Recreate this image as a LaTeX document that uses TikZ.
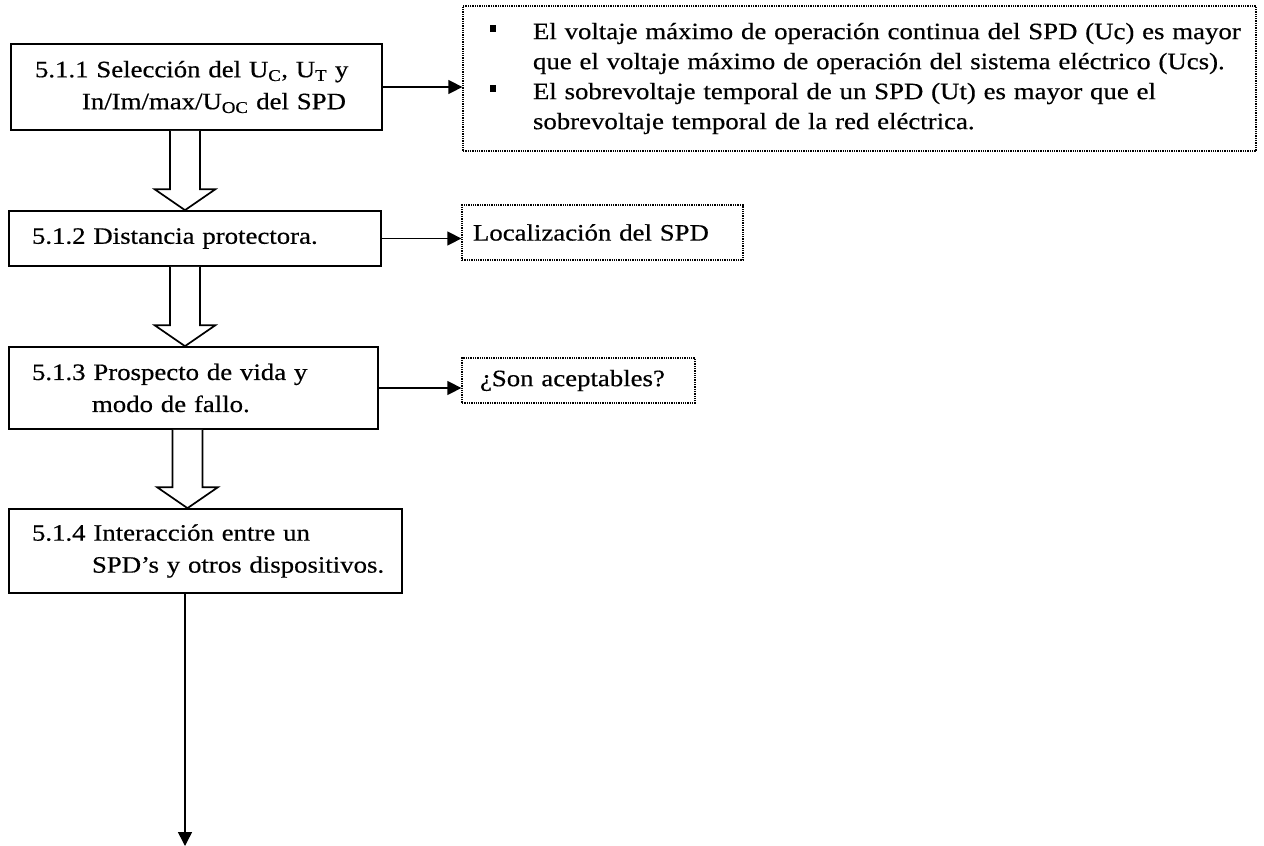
\documentclass[tikz,border=0pt]{standalone}
\usepackage{fontspec}
\setmainfont{Liberation Serif}[FakeStretch=1.14,FakeBold=0.5]
\usetikzlibrary{arrows.meta,calc}
\newcommand\blockarrow[2]{%
  \draw[hollow] ($(#1)+(-15,0)$) -- ($(#2)+(-15,21)$) -- ($(#2)+(-30.5,21)$) -- (#2)
    -- ($(#2)+(30.5,21)$) -- ($(#2)+(15,21)$) -- ($(#1)+(15,0)$);}
\newcommand\sqbullet{\rule[7pt]{6pt}{7pt}}
\begin{document}
\begin{tikzpicture}[x=1pt,y=1pt,
  solidbox/.style={draw, line width=1.7pt, inner xsep=0pt, inner ysep=0pt, align=left,
    font=\fontsize{23.5}{32}\selectfont},
  dotbox/.style={draw, densely dotted, line width=1.3pt, inner xsep=0pt, inner ysep=0pt, align=left,
    font=\fontsize{23.5}{30}\selectfont},
  thinarrow/.style={line width=1.5pt, -{Triangle[length=14pt,width=14pt]}},
  hollow/.style={draw, line width=1.7pt, fill=white, line join=miter}
]
\useasboundingbox (0,0) rectangle (1264,-846);

% main column boxes
\node[solidbox, text width=371pt, minimum height=86pt] (b1) at (196.5,-87)
  {\hspace*{24pt}\mbox{5.1.1 Selección del U\textsubscript{C}, U\textsubscript{T} y}\\
   \hspace*{71pt}\mbox{In/Im/max/U\textsubscript{OC} del SPD}};
\node[solidbox, text width=372pt, minimum height=55pt] (b2) at (195,-238.5)
  {\hspace*{23pt}\mbox{5.1.2 Distancia protectora.}};
\node[solidbox, text width=369pt, minimum height=82pt] (b3) at (193.5,-388)
  {\hspace*{23pt}\mbox{5.1.3 Prospecto de vida y}\\
   \hspace*{83pt}\mbox{modo de fallo.}};
\node[solidbox, text width=393pt, minimum height=84pt] (b4) at (205.5,-551)
  {\hspace*{23pt}\mbox{5.1.4 Interacción entre un}\\
   \hspace*{83pt}\mbox{SPD’s y otros dispositivos.}};

% dotted side boxes
\node[dotbox, text width=793pt, minimum height=145pt] (dA) at (859.5,-78.5)
  {\hspace*{27pt}\mbox{\makebox[43pt][l]{\sqbullet}El voltaje máximo de operación continua del SPD (Uc) es mayor}\\
   \hspace*{70pt}\mbox{que el voltaje máximo de operación del sistema eléctrico (Ucs).}\\
   \hspace*{27pt}\mbox{\makebox[43pt][l]{\sqbullet}El sobrevoltaje temporal de un SPD (Ut) es mayor que el}\\
   \hspace*{70pt}\mbox{sobrevoltaje temporal de la red eléctrica.}};
\node[dotbox, text width=281pt, minimum height=55pt] (dB) at (602.5,-232.5)
  {\hspace*{11pt}\mbox{Localización del SPD}};
\node[dotbox, text width=233pt, minimum height=45pt] (dC) at (578.5,-380.5)
  {\hspace*{18pt}\mbox{¿Son aceptables?}};

% hollow block arrows between main boxes
\coordinate (c1) at (185,0);
\coordinate (c3) at (187.5,0);
\coordinate (s1) at (b1.south -| c1);
\coordinate (t1) at (b2.north -| c1);
\coordinate (s2) at (b2.south -| c1);
\coordinate (t2) at (b3.north -| c1);
\coordinate (s3) at (b3.south -| c3);
\coordinate (t3) at (b4.north -| c3);
\blockarrow{s1}{t1}
\blockarrow{s2}{t2}
\blockarrow{s3}{t3}

% side arrows
\draw[thinarrow] (b1.east) -- (b1.east -| dA.west);
\draw[thinarrow] (b2.east) -- (b2.east -| dB.west);
\draw[thinarrow] (b3.east) -- (b3.east -| dC.west);

% final arrow
\coordinate (fin) at (185,-846);
\draw[thinarrow] (b4.south -| fin) -- (fin);
\end{tikzpicture}
\end{document}
